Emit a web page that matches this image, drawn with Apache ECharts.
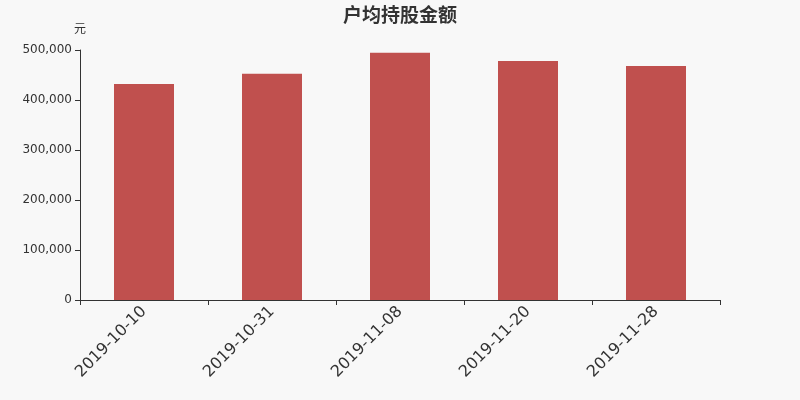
<!DOCTYPE html>
<html>
<head>
<meta charset="utf-8">
<script src="https://cdn.jsdelivr.net/npm/echarts@6/dist/echarts.min.js"></script>
<style>
html,body{margin:0;padding:0;background:#f8f8f8;}
#main{width:800px;height:400px;}
</style>
</head>
<body>
<div id="main"></div>
<script>
let dates=["2019-10-10","2019-10-31","2019-11-08","2019-11-20","2019-11-28"];
let amounts=[432000,452500,494500,478000,468000];

var myChart=echarts.init(document.querySelector("#main"));
let option={
	backgroundColor:"#f8f8f8",
	animation:false,
	title:{
		text:"户均持股金额",
		left:"center",
		top:0,
		textStyle:{
			fontSize:19,
			fontWeight:"bold",
			color:"#333",
			fontFamily:"Noto Sans CJK SC"
		}
	},
	grid:{
		left:80,
		right:80,
		top:50,
		bottom:100
	},
	xAxis:{
		type:"category",
		data:dates,
		axisTick:{
			show:true,
			length:5,
			lineStyle:{color:"#333"}
		},
		axisLine:{
			lineStyle:{color:"#333"}
		},
		axisLabel:{
			rotate:45,
			fontSize:16,
			color:"#333",
			margin:9,
			fontFamily:"DejaVu Sans"
		}
	},
	yAxis:{
		type:"value",
		name:"元",
		min:0,
		max:500000,
		interval:100000,
		nameGap:16,
		nameTextStyle:{
			color:"#333",
			fontSize:12,
			align:"center",
			fontFamily:"Noto Sans CJK SC"
		},
		splitLine:{show:false},
		axisLine:{
			show:true,
			lineStyle:{color:"#333"}
		},
		axisTick:{
			show:true,
			length:5,
			lineStyle:{color:"#333"}
		},
		axisLabel:{
			color:"#333",
			fontSize:12,
			fontFamily:"DejaVu Sans",
			formatter:function(v){
				return v.toString().replace(/\B(?=(\d{3})+(?!\d))/g,",");
			}
		}
	},
	series:[{
		type:"bar",
		data:amounts,
		barWidth:60,
		itemStyle:{color:"#c0504e"}
	}]
};
myChart.setOption(option);
</script>
</body>
</html>
